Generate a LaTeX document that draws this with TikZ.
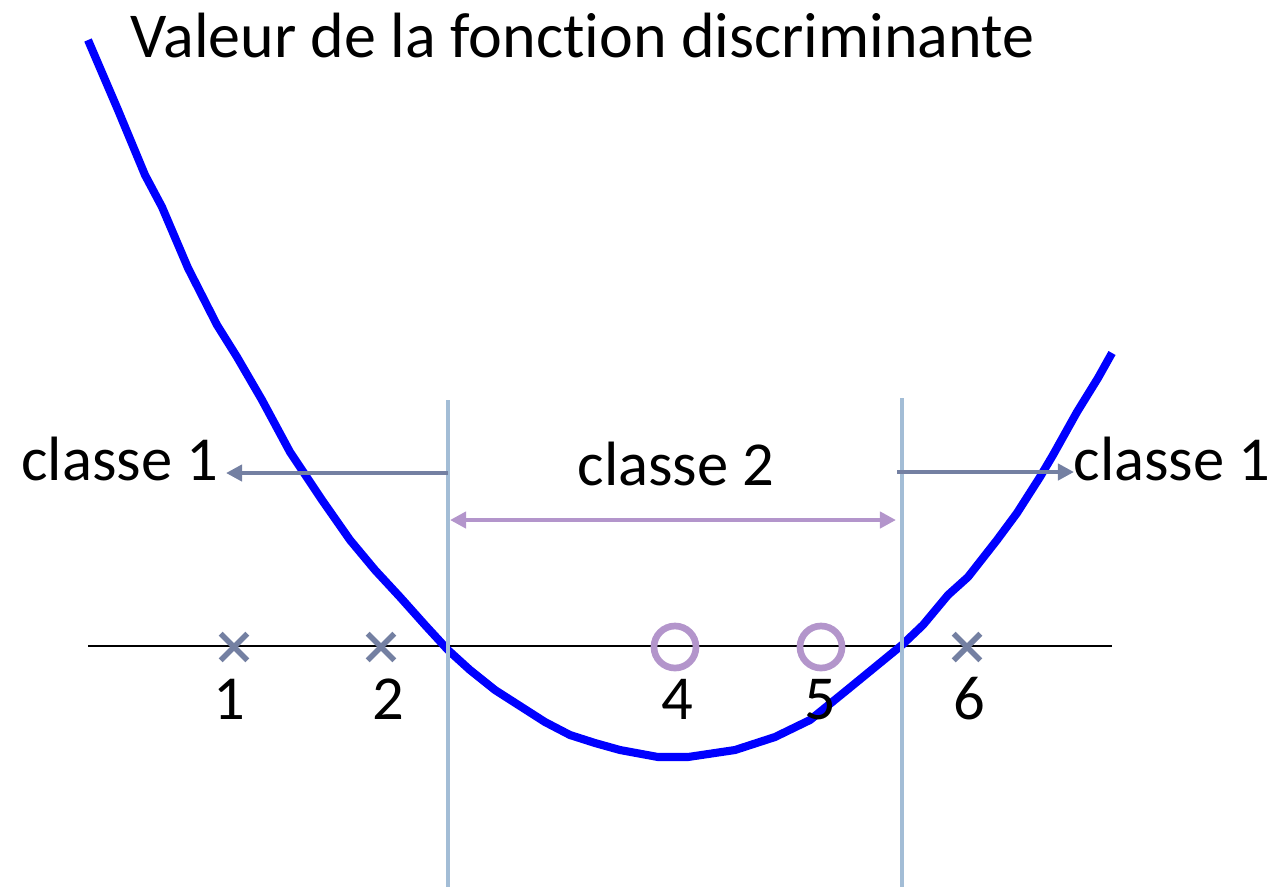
\documentclass[tikz,border=0pt]{standalone}
\usepackage{fontspec}
\setmainfont{Carlito}[RawFeature={-liga;-clig;-dlig;-calt}]
\usetikzlibrary{positioning,arrows.meta,shapes.misc}
\definecolor{DiscBlue}{HTML}{0000FF}
\definecolor{DiscGrey}{HTML}{7480A2}
\definecolor{DiscPurple}{HTML}{B395CB}
\definecolor{DiscLine}{HTML}{A3BDD6}

\begin{document}
\begin{tikzpicture}[x=0.01cm,y=-0.01cm,
  lbl/.style={font=\fontsize{17.8}{21}\selectfont,inner sep=0pt},
  garr/.style={-{Triangle[length=4.6pt,width=4.6pt]},line width=1.35pt,DiscGrey},
  parr/.style={{Triangle[length=4.6pt,width=4.6pt]}-{Triangle[length=4.6pt,width=4.6pt]},
               line width=1.35pt,DiscPurple},
  vline/.style={line width=1.35pt,DiscLine},
  xmark/.style={cross out,draw=DiscGrey,line width=1.6pt,minimum size=0.21cm,inner sep=0pt},
  ring/.style={circle,draw=DiscPurple,line width=1.9pt,minimum size=0.42cm,inner sep=0pt}]
  \useasboundingbox (0,0) rectangle (1281,887);
  % axis and title
  \coordinate (ax0) at (88,646); \coordinate (ax1) at (1112,646);
  \draw[line width=0.35pt] (ax0) -- (ax1);
  \node[lbl,font=\fontsize{18.2}{22}\selectfont,anchor=base west] (title) at (130,57)
    {Valeur de la fonction discriminante};
  % discriminant function
  \draw[DiscBlue,line width=2.3pt,line join=round] plot coordinates {
    (88,40) (118,110) (145,175) (162,207) (188,268) (217,325) (237,357) (262,400)
    (290,452) (322,500) (350,540) (375,570) (400,597) (425,625) (448,650) (470,670)
    (495,690) (520,706) (545,722) (570,735) (595,743) (620,750) (658,757) (688,757)
    (735,750) (775,737) (810,720) (847,690) (880,663) (902,645) (923,625) (948,595)
    (968,577) (997,540) (1017,513) (1040,477) (1053,455) (1077,412) (1098,378) (1112,353)};
  % thresholds
  \coordinate (vlLtop) at (448,400); \coordinate (vlLbot) at (448,887);
  \coordinate (vlRtop) at (902,398); \coordinate (vlRbot) at (902,887);
  \draw[vline] (vlLtop) -- (vlLbot);
  \draw[vline] (vlRtop) -- (vlRbot);
  % classes
  \node[lbl,anchor=base east] (c1l) at (219,480) {classe 1};
  \node[lbl,anchor=base] (c2) at (676,485) {classe 2};
  \node[lbl,anchor=base west] (c1r) at (1073,480) {classe 1};
  \coordinate (aL0) at (448,473); \coordinate (aL1) at (226,473);
  \coordinate (aR0) at (897,472); \coordinate (aR1) at (1074,472);
  \coordinate (pL) at (450,520); \coordinate (pR) at (896,520);
  \draw[garr] (aL0) -- (aL1);
  \draw[garr] (aR0) -- (aR1);
  \draw[parr] (pL) -- (pR);
  % samples
  \node[xmark] (x1) at (234,647) {};
  \node[xmark] (x2) at (381,647) {};
  \node[ring] (o4) at (675,647) {};
  \node[ring] (o5) at (821,647) {};
  \node[xmark] (x6) at (967,647) {};
  \node[lbl,anchor=base] (n1) at (229,719) {1};
  \node[lbl,anchor=base] (n2) at (388,719) {2};
  \node[lbl,anchor=base] (n4) at (677,719) {4};
  \node[lbl,anchor=base] (n5) at (820,719) {5};
  \node[lbl,anchor=base] (n6) at (969,719) {6};
\end{tikzpicture}
\end{document}
